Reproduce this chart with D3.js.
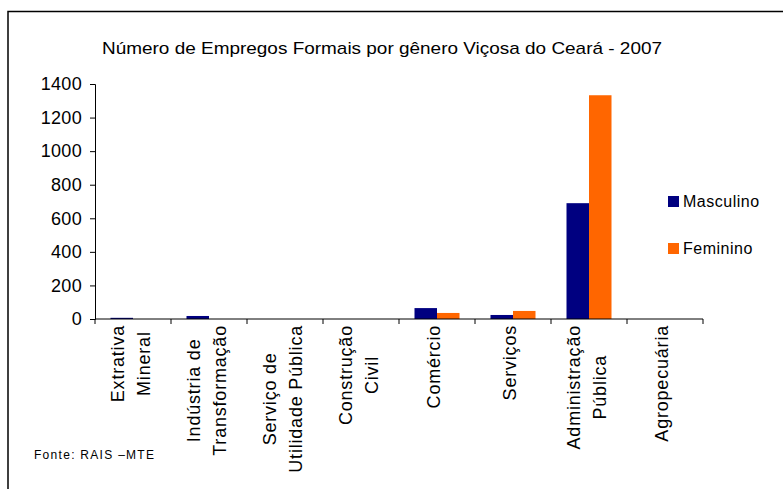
<!DOCTYPE html>
<html>
<head>
<meta charset="utf-8">
<script src="https://cdn.jsdelivr.net/npm/d3@7"></script>
<style>
  body { margin: 0; background: #fff; }
  svg { display: block; font-family: "Liberation Sans", Arial, sans-serif; }
</style>
</head>
<body>
<div id="chart"></div>
<script>
// Data
const categories = [
    ["Extrativa", "Mineral"],
    ["Indústria de", "Transformação"],
    ["Serviço de", "Utilidade Pública"],
    ["Construção", "Civil"],
    ["Comércio"],
    ["Serviços"],
    ["Administração", "Pública"],
    ["Agropecuária"]
];
const masculino = [7, 18, 0, 0, 65, 24, 690, 0];
const feminino = [0, 0, 0, 0, 36, 48, 1333, 0];
const yTicks = [0, 200, 400, 600, 800, 1000, 1200, 1400];
const seriesNames = ["Masculino", "Feminino"];
const colors = ["#000080", "#FF6600"];

const W = 783, H = 489;

const svg = d3.select("#chart")
    .append("svg")
    .attr("width", W)
    .attr("height", H);

// Outer frame (left and top edges visible)
svg.append("path")
    .attr("d", `M8,${H} L8,11.5 L${W},11.5`)
    .attr("fill", "none")
    .attr("stroke", "#000")
    .attr("stroke-width", 1.5);

// Title
svg.append("text")
    .attr("x", 102)
    .attr("y", 54)
    .attr("textLength", 560)
    .attr("lengthAdjust", "spacingAndGlyphs")
    .style("font-size", "17px")
    .text("Número de Empregos Formais por gênero Viçosa do Ceará - 2007");

// Scales
const x = d3.scaleBand()
    .domain(d3.range(categories.length))
    .range([95, 703]);

const y = d3.scaleLinear()
    .domain([0, 1400])
    .range([319, 84]);

const barW = 22.5;

// Bars
const series = [masculino, feminino];
series.forEach((vals, s) => {
    svg.append("g")
        .selectAll("rect")
        .data(vals)
        .enter()
        .append("rect")
        .attr("x", (d, i) => x(i) + x.bandwidth() / 2 - barW + s * barW)
        .attr("y", d => y(d))
        .attr("width", barW)
        .attr("height", d => y(0) - y(d))
        .attr("fill", colors[s]);
});

// Y axis
const yAxis = d3.axisLeft(y)
    .tickValues(yTicks)
    .tickSize(5)
    .tickPadding(8)
    .tickFormat(d3.format("d"));

const gy = svg.append("g")
    .attr("transform", "translate(95,0)")
    .call(yAxis);
gy.select(".domain").attr("stroke", "#000");
gy.selectAll(".tick line").attr("stroke", "#000");
gy.selectAll(".tick text")
    .style("font-size", "18px")
    .style("letter-spacing", "0.3px")
    .style("font-family", "'Liberation Sans', Arial, sans-serif")
    .attr("fill", "#000");

// X axis line and ticks at band boundaries
const gx = svg.append("g");
gx.append("line")
    .attr("x1", 95).attr("x2", 703)
    .attr("y1", y(0)).attr("y2", y(0))
    .attr("stroke", "#000");
gx.selectAll(".xtick")
    .data(d3.range(categories.length + 1))
    .enter()
    .append("line")
    .attr("class", "xtick")
    .attr("x1", i => i < categories.length ? x(i) : x(i - 1) + x.bandwidth())
    .attr("x2", i => i < categories.length ? x(i) : x(i - 1) + x.bandwidth())
    .attr("y1", y(0))
    .attr("y2", y(0) + 5)
    .attr("stroke", "#000");

// Category labels (rotated, lines centred on each other, block top at axis)
categories.forEach((lines, i) => {
    const cx = x(i) + x.bandwidth() / 2;
    const g = svg.append("g");
    const offsets = lines.length === 2 ? [-9, 17] : [3];
    const texts = lines.map((ln, k) => g.append("text")
        .attr("text-anchor", "middle")
        .style("font-size", "18px")
        .style("letter-spacing", "0.8px")
        .text(ln));
    const maxLen = d3.max(texts, t => t.node().getComputedTextLength());
    const yc = 325 + maxLen / 2;
    texts.forEach((t, k) => {
        t.attr("transform", `translate(${cx + offsets[k]},${yc}) rotate(-90)`);
    });
});

// Legend
const legend = svg.append("g");
seriesNames.forEach((name, s) => {
    const ly = 196 + s * 47;
    legend.append("rect")
        .attr("x", 668).attr("y", ly)
        .attr("width", 11).attr("height", 11)
        .attr("fill", colors[s]);
    legend.append("text")
        .attr("x", 683)
        .attr("y", ly + 11)
        .style("font-size", "16px")
        .style("letter-spacing", "0.5px")
        .text(name);
});

// Source note
svg.append("text")
    .attr("x", 34)
    .attr("y", 459)
    .attr("textLength", 120)
    .attr("lengthAdjust", "spacing")
    .style("font-size", "12px")
    .text("Fonte: RAIS –MTE");
</script>
</body>
</html>
